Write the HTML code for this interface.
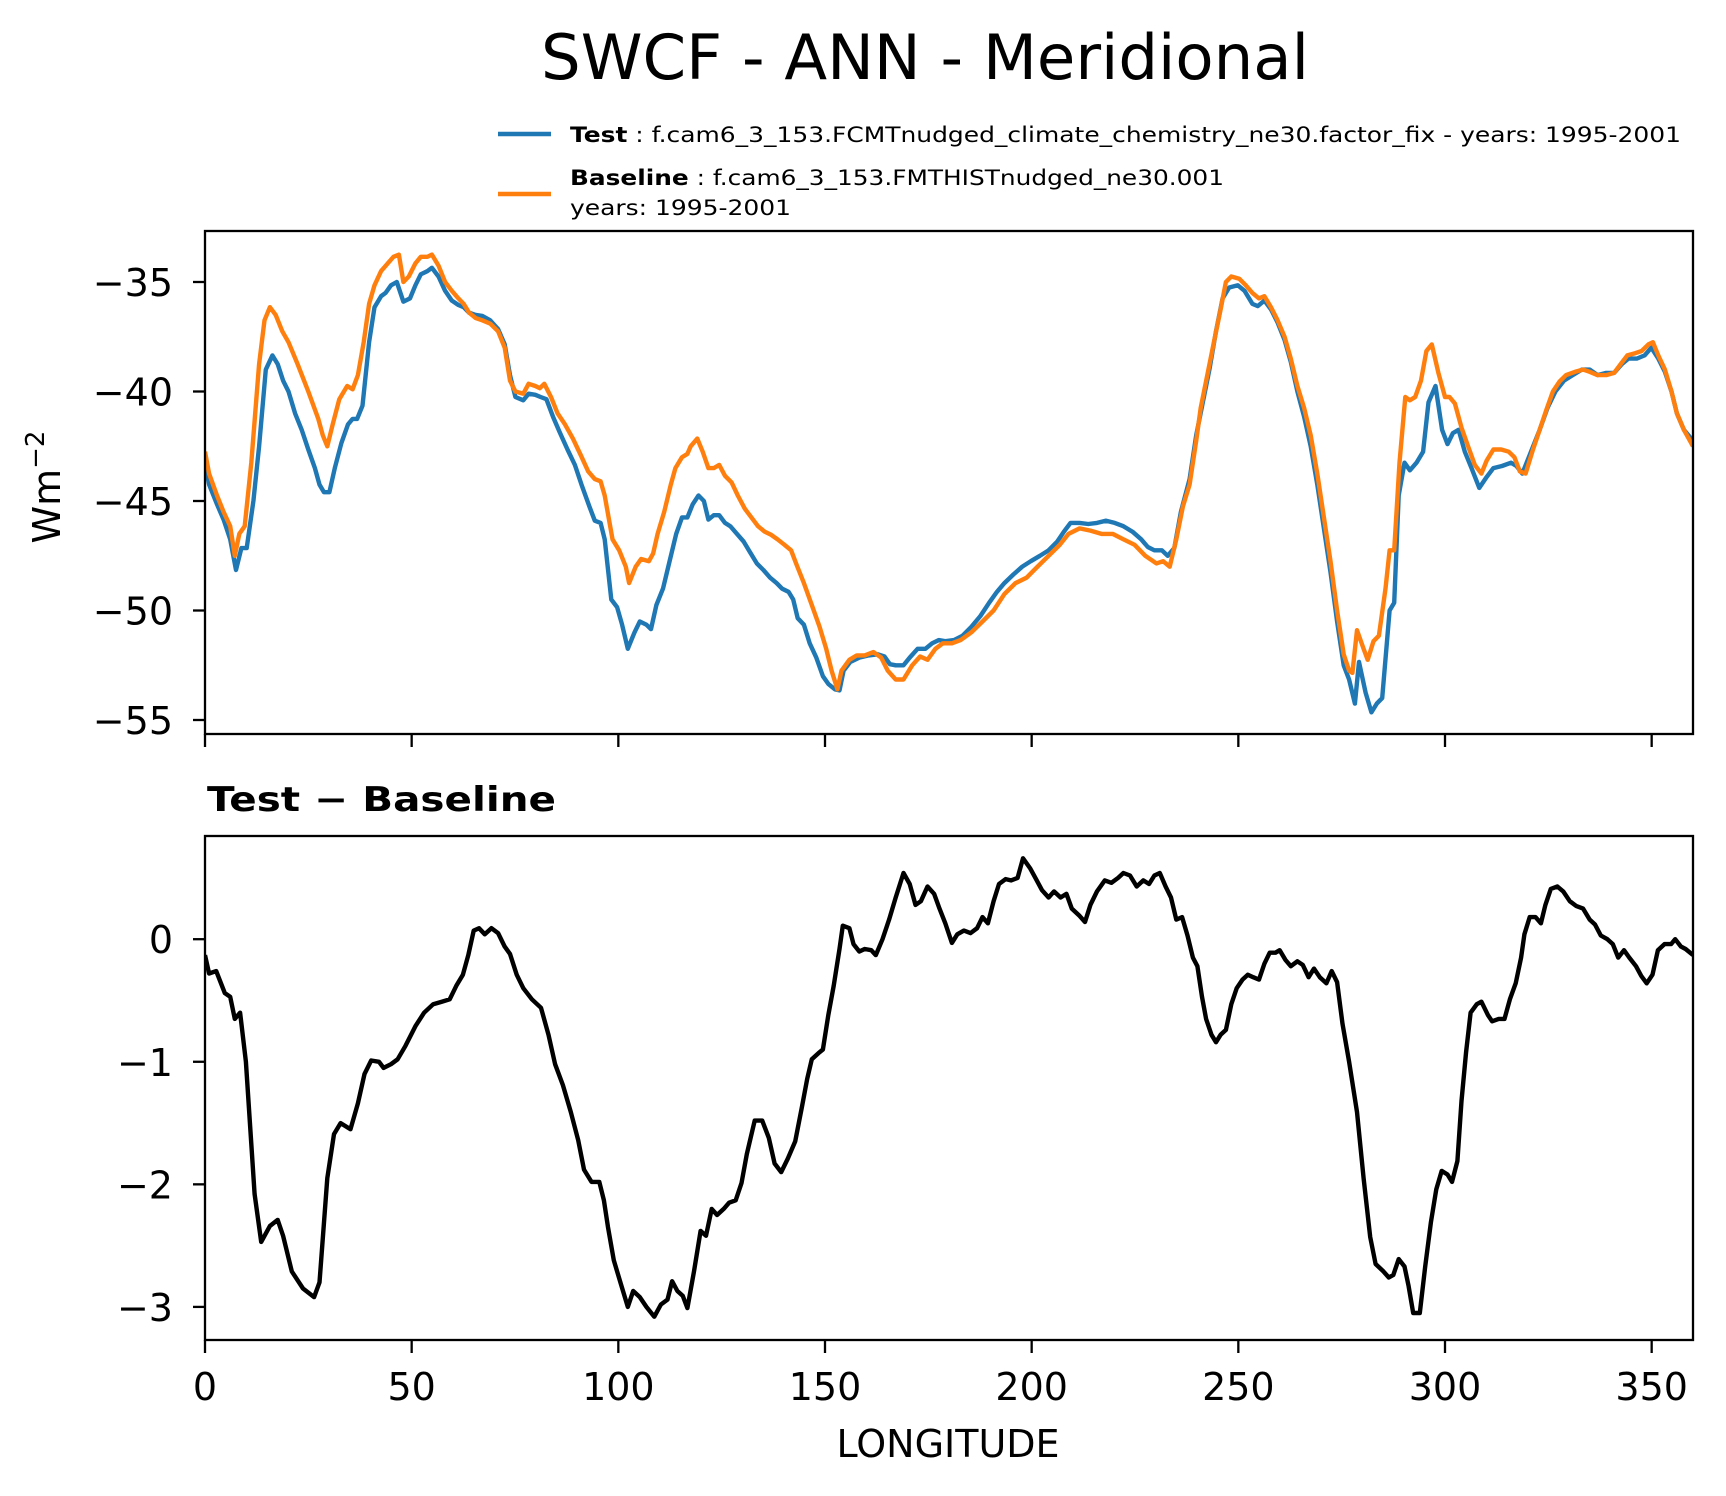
<!DOCTYPE html>
<html><head><meta charset="utf-8"><style>
html,body{margin:0;padding:0;background:#fff;}
svg{display:block;font-family:"DejaVu Sans","Liberation Sans",sans-serif;}
</style></head><body>
<svg id="chart" width="1726" height="1496" viewBox="0 0 1726 1496" xmlns="http://www.w3.org/2000/svg">
<rect width="1726" height="1496" fill="#fff"/>
<text x="925" y="79" font-size="62.5" text-anchor="middle">SWCF - ANN - Meridional</text>
<g>
<line x1="498" y1="134" x2="551" y2="134" stroke="#1f77b4" stroke-width="4.5"/>
<text x="570" y="142" font-size="21" textLength="1111" lengthAdjust="spacingAndGlyphs"><tspan font-weight="bold">Test</tspan> : f.cam6_3_153.FCMTnudged_climate_chemistry_ne30.factor_fix - years: 1995-2001</text>
<line x1="498" y1="194" x2="551" y2="194" stroke="#ff7f0e" stroke-width="4.5"/>
<text x="570" y="185" font-size="21" textLength="654" lengthAdjust="spacingAndGlyphs"><tspan font-weight="bold">Baseline</tspan> : f.cam6_3_153.FMTHISTnudged_ne30.001</text>
<text x="570" y="215" font-size="21" textLength="221" lengthAdjust="spacingAndGlyphs">years: 1995-2001</text>
</g>
<text transform="translate(60,487) rotate(-90)" font-size="38" text-anchor="middle">Wm<tspan font-size="26" dy="-16">−2</tspan></text>
<text x="207" y="811" font-size="34" font-weight="bold" textLength="349" lengthAdjust="spacingAndGlyphs">Test − Baseline</text>
<text x="948" y="1457" font-size="38" text-anchor="middle">LONGITUDE</text>
<g id="top"></g>
<g id="bot"></g>
</svg>
<script>
const testLon=[0,1,2.9,4.5,6.1,7.5,8.8,10.1,11.7,13.1,14.7,16.3,17.6,18.9,20.2,21.8,23.4,25,26.6,27.7,28.8,30.1,31.4,33,34.6,35.7,36.8,38.1,39.7,41,42.6,43.7,45,46.4,48,49.6,50.9,52.2,53.8,54.9,56.5,58.1,59.7,61.3,62.6,63.9,65.5,67.1,69,70.9,72.5,73.8,75.1,77,78.3,79.9,81.2,82.6,84.2,85.8,87.7,89.5,91.1,93,94.3,95.7,96.7,98.3,99.7,100.9,102.3,103.9,105.2,106.8,107.9,109.2,110.8,112.4,114,115.4,116.7,118,119.4,120.7,121.8,123.1,124.4,125.8,127.1,128.7,130.3,131.9,133.5,135.1,136.7,138.3,139.6,141.2,142.3,143.4,144.9,146.3,147.9,149.5,150.8,152.4,153.5,154.5,156.1,158.3,160.6,162.8,164.4,165.7,167.1,169,170.5,172.4,174.3,175.9,177.5,179.1,181.2,183.3,185.4,187.6,189.7,191.6,193.4,195.6,197.7,199.8,202,204.1,206.2,207.8,209.4,211.6,213.7,215.8,218,220.1,222.2,224.4,226.5,228.1,229.7,231.5,232.9,234.5,236.1,238.2,239.8,241.4,243,244.6,246.2,247.8,249.9,251.5,253.4,254.7,256.3,257.9,259.5,261.2,262.7,264.3,265.9,267.5,269.1,270.7,272.3,273.9,275.5,276.8,278.2,279.2,280.8,282.2,283.5,284.8,286.6,287.7,288.8,290.2,291.5,293.1,294.7,296,297.7,299.3,300.6,301.9,303.3,304.8,306.4,308.3,310.1,311.7,313.8,316,317.3,318.7,320.8,322.9,324.8,326.7,328.8,330.9,333.1,335,336.9,339,340.9,342.8,344.4,346.4,348.3,349.9,351.6,353.2,354.8,356.1,357.8,360];
const testVals=[-43.25,-44.25,-45.15,-45.85,-46.75,-48.15,-47.15,-47.15,-45,-42.5,-39,-38.35,-38.75,-39.5,-40,-41,-41.75,-42.65,-43.5,-44.25,-44.6,-44.6,-43.5,-42.35,-41.5,-41.25,-41.25,-40.65,-37.75,-36.15,-35.65,-35.5,-35.15,-35,-35.9,-35.75,-35.15,-34.65,-34.5,-34.35,-34.75,-35.4,-35.85,-36.05,-36.15,-36.4,-36.5,-36.55,-36.75,-37.15,-37.85,-39.25,-40.25,-40.4,-40.1,-40.15,-40.25,-40.35,-41.15,-41.85,-42.65,-43.35,-44.25,-45.25,-45.9,-46,-46.75,-49.5,-49.85,-50.65,-51.75,-51,-50.5,-50.65,-50.85,-49.75,-49,-47.75,-46.5,-45.75,-45.75,-45.15,-44.75,-45,-45.85,-45.65,-45.65,-46,-46.15,-46.5,-46.85,-47.35,-47.85,-48.15,-48.5,-48.75,-49,-49.15,-49.5,-50.35,-50.65,-51.5,-52.15,-53,-53.35,-53.6,-53.65,-52.75,-52.35,-52.15,-52.05,-52,-52.1,-52.45,-52.5,-52.5,-52.15,-51.75,-51.75,-51.5,-51.35,-51.4,-51.35,-51.15,-50.75,-50.25,-49.65,-49.15,-48.75,-48.35,-48,-47.75,-47.5,-47.25,-46.85,-46.4,-46,-46,-46.05,-46,-45.9,-46,-46.15,-46.4,-46.75,-47.1,-47.25,-47.25,-47.5,-47.15,-45.5,-44,-42,-40.5,-39,-37.25,-35.75,-35.25,-35.15,-35.4,-36,-36.1,-35.85,-36.25,-36.85,-37.65,-38.65,-40,-41.15,-42.5,-44.25,-46.25,-48.25,-50.5,-52.5,-53.15,-54.25,-52.35,-53.75,-54.65,-54.25,-54,-50,-49.65,-44.75,-43.25,-43.6,-43.25,-42.75,-40.5,-39.75,-41.75,-42.4,-41.9,-41.75,-42.75,-43.5,-44.4,-43.9,-43.5,-43.4,-43.25,-43.4,-43.75,-42.75,-41.75,-40.75,-40,-39.5,-39.25,-39,-39,-39.25,-39.15,-39.15,-38.75,-38.5,-38.5,-38.35,-38,-38.5,-39.1,-40,-41,-41.75,-42.25];
const baseLon=[0,1,2.9,4.5,6.1,7.2,8.3,9.6,11.2,13.1,14.4,15.7,17.1,18.7,20.2,22.4,25,27.4,28.5,29.6,30.9,32.5,34.4,35.7,37,38.4,39.7,41,42.6,44.2,45.6,46.9,48,49.3,50.9,52.2,53.8,54.9,56.5,58.1,59.7,61.3,62.6,63.9,65.5,67.1,69,70.9,72.5,73.8,75.1,77,78.3,79.9,81,82.1,83.7,85.3,87.1,89,90.9,92.7,94.3,95.7,96.7,98.6,100.2,101.8,102.6,104.2,105.5,107.4,108.4,109.5,111.1,112.7,113.8,115.4,116.7,117.5,119.1,120.4,121.8,123.1,124.4,125.8,127.4,128.9,130.6,132.2,133.8,135.4,137,138.5,140.2,141.8,143.1,144.9,146.8,148.7,150.3,151.6,153,154,155.9,157.7,159.6,161.7,163.6,165.2,167.1,169,171.1,173,174.8,176.7,178.5,180.7,182.8,185.4,188.1,190.8,193.4,196.1,198.8,201.4,204.1,206.8,208.9,211.6,214.2,216.9,219.6,222.2,224.9,227.5,230.2,231.8,233.4,235,236.6,238.2,239.8,240.9,242.5,244.1,245.7,247,248.3,250.2,251.8,253.4,255,256.3,257.9,259.5,261.2,262.7,264.3,265.9,267.5,269.1,270.7,272.3,273.9,275.5,276.8,277.6,278.7,280.3,281.3,282.7,284,285.6,286.6,287.7,289,290.4,291.5,292.8,294.2,295.5,296.8,298.4,300,301.1,302.4,304,305.6,307.2,308.8,310.1,311.7,313.6,315.4,316.8,318.1,319.5,321.3,322.9,324.5,326.1,327.7,329.3,331.5,333.4,335,336.9,339,340.9,342.5,344.1,346,347.6,349.2,350.3,351.6,353.2,354.8,356.1,357.8,360];
const baseVals=[-42.75,-43.75,-44.75,-45.5,-46.15,-47.5,-46.5,-46.15,-43.25,-38.75,-36.75,-36.15,-36.5,-37.25,-37.75,-38.75,-40,-41.25,-42,-42.5,-41.5,-40.35,-39.75,-39.9,-39.25,-37.75,-36,-35.15,-34.5,-34.15,-33.85,-33.75,-35,-34.75,-34.15,-33.85,-33.85,-33.75,-34.25,-35,-35.4,-35.75,-36,-36.4,-36.65,-36.75,-36.9,-37.25,-38,-39.5,-40,-40.1,-39.65,-39.75,-39.85,-39.65,-40.25,-41,-41.5,-42.15,-42.9,-43.65,-44,-44.1,-44.75,-46.75,-47.25,-48,-48.75,-48,-47.65,-47.75,-47.4,-46.5,-45.5,-44.25,-43.5,-43,-42.85,-42.5,-42.15,-42.75,-43.5,-43.5,-43.35,-43.85,-44.15,-44.75,-45.35,-45.75,-46.15,-46.4,-46.55,-46.75,-47,-47.25,-47.9,-48.75,-49.75,-50.75,-51.75,-52.75,-53.6,-52.75,-52.25,-52.05,-52.05,-51.9,-52.15,-52.75,-53.15,-53.15,-52.5,-52.1,-52.25,-51.75,-51.5,-51.5,-51.35,-51,-50.5,-50,-49.25,-48.75,-48.5,-48,-47.5,-47,-46.5,-46.25,-46.35,-46.5,-46.5,-46.75,-47,-47.5,-47.85,-47.75,-48,-46.75,-45.25,-44.25,-42.25,-40.75,-39.25,-37.75,-36.25,-35,-34.75,-34.85,-35.15,-35.5,-35.75,-35.65,-36.15,-36.75,-37.5,-38.5,-39.75,-40.75,-42,-43.75,-45.75,-47.75,-50,-52,-52.75,-52.85,-50.9,-51.75,-52.25,-51.4,-51.15,-49,-47.25,-47.25,-43.25,-40.25,-40.4,-40.25,-39.5,-38.15,-37.85,-39.15,-40.25,-40.25,-40.55,-41.65,-42.5,-43.35,-43.75,-43.15,-42.65,-42.65,-42.75,-43,-43.65,-43.75,-42.65,-41.75,-40.85,-40,-39.55,-39.25,-39.1,-39,-39.1,-39.25,-39.25,-39.15,-38.75,-38.35,-38.25,-38.15,-37.85,-37.75,-38.35,-39,-40,-41,-41.75,-42.5];
const diffLon=[0,1,2.7,4.8,6.1,7.2,8.5,9.9,12,13.6,15.7,17.6,18.9,21,23.7,26.4,27.7,29.6,31.2,32.8,35.2,37,38.6,40.2,42.1,43.2,45,46.6,48.5,50.9,53,55.2,57.3,59.2,60.8,62.4,63.7,65,66.3,67.7,69.3,70.9,72.5,73.8,75.4,77,79.1,81.3,83.1,84.7,86.6,88.5,90.3,91.7,93.5,95.4,96.5,97.5,98.9,100.5,102.3,103.6,105.2,106.8,108.7,110.3,111.9,113,114.3,115.6,116.7,118.3,119.9,121.2,122.6,123.9,125.5,126.8,128.4,129.8,131.1,133,134.8,136.4,137.8,139.4,141,142.8,144.4,145.7,146.8,148.4,149.5,150.8,152.1,153.5,154.3,155.9,156.9,158.3,159.6,161.2,162.3,163.9,165.5,167.1,169,170.5,171.9,173.2,174.8,176.4,177.7,179.1,180.7,182,183.6,185.2,186.8,188.1,189.4,190.8,192.1,193.7,195,196.6,197.9,199.6,200.9,202.5,204.1,205.4,207,208.4,209.7,211.6,212.9,214.2,215.8,217.7,219.3,220.9,222.2,223.8,225.4,227,228.4,229.7,231,232.4,233.7,235,236.4,237.7,239,240.1,241.2,242.2,243.5,244.6,245.7,247,248.3,249.6,251,252.3,253.6,255,256.3,257.6,259,260,261.4,262.7,264.3,265.6,267,268.3,269.7,271.3,272.6,273.9,275.2,276.8,278.7,280.3,281.9,283.2,285.1,286.4,287.5,288.8,290.2,291.2,292.3,293.9,295.2,296.6,297.9,299.2,300.6,301.7,303,304,305.1,306.2,307.7,308.8,310.4,311.4,313,314.4,315.7,317.1,318.4,319.2,320.5,321.9,323.2,324.3,325.6,327.2,328.6,330.2,331.8,333.4,335,336.3,337.7,339.3,340.6,341.9,343.3,344.6,346.2,347.5,348.8,350.2,351.5,353.1,354.7,355.7,357.1,358.2,360];
const diffVals=[-0.13,-0.28,-0.26,-0.44,-0.47,-0.65,-0.6,-1.0,-2.08,-2.47,-2.34,-2.29,-2.42,-2.71,-2.85,-2.92,-2.8,-1.95,-1.59,-1.5,-1.55,-1.34,-1.1,-0.99,-1.0,-1.05,-1.02,-0.98,-0.87,-0.71,-0.6,-0.53,-0.51,-0.49,-0.38,-0.29,-0.13,0.07,0.09,0.04,0.09,0.05,-0.06,-0.12,-0.29,-0.4,-0.49,-0.56,-0.78,-1.02,-1.19,-1.41,-1.64,-1.88,-1.98,-1.98,-2.13,-2.35,-2.62,-2.8,-3.0,-2.87,-2.92,-3.0,-3.08,-2.98,-2.94,-2.79,-2.87,-2.91,-3.01,-2.71,-2.38,-2.42,-2.2,-2.25,-2.2,-2.15,-2.13,-1.99,-1.75,-1.48,-1.48,-1.62,-1.83,-1.9,-1.79,-1.65,-1.37,-1.14,-0.98,-0.93,-0.9,-0.62,-0.38,-0.08,0.11,0.09,-0.04,-0.1,-0.08,-0.09,-0.13,0,0.16,0.34,0.54,0.45,0.28,0.31,0.43,0.37,0.25,0.13,-0.03,0.04,0.07,0.05,0.09,0.18,0.13,0.31,0.45,0.49,0.48,0.5,0.66,0.58,0.5,0.4,0.34,0.39,0.34,0.37,0.25,0.19,0.14,0.28,0.39,0.48,0.46,0.5,0.54,0.52,0.43,0.48,0.45,0.52,0.54,0.43,0.34,0.16,0.18,0.03,-0.15,-0.22,-0.47,-0.65,-0.78,-0.84,-0.78,-0.74,-0.53,-0.4,-0.33,-0.29,-0.31,-0.33,-0.2,-0.11,-0.11,-0.09,-0.17,-0.22,-0.18,-0.21,-0.31,-0.24,-0.31,-0.36,-0.26,-0.35,-0.69,-1.0,-1.41,-1.95,-2.43,-2.65,-2.71,-2.76,-2.74,-2.61,-2.67,-2.83,-3.05,-3.05,-2.67,-2.31,-2.04,-1.89,-1.92,-1.98,-1.81,-1.32,-0.92,-0.6,-0.53,-0.51,-0.62,-0.67,-0.65,-0.65,-0.49,-0.36,-0.15,0.04,0.18,0.18,0.13,0.28,0.41,0.43,0.39,0.31,0.27,0.25,0.16,0.12,0.03,0,-0.04,-0.15,-0.09,-0.15,-0.22,-0.3,-0.36,-0.29,-0.09,-0.04,-0.04,0,-0.06,-0.08,-0.13];
const xTicks=[0,50,100,150,200,250,300,350];
const topYTicks=[-35,-40,-45,-50,-55];
const botYTicks=[0,-1,-2,-3];

const NS='http://www.w3.org/2000/svg';
const L=205,R=1693;
const TOP1=231,BOT1=734,TOP2=836,BOT2=1340;
const xs=v=>L+(v/360)*(R-L);
const topY=v=>282+(-35-v)*21.9;
const botY=v=>939.2-v*122.57;
function mk(p,tag,attrs){const e=document.createElementNS(NS,tag);for(const k in attrs)e.setAttribute(k,attrs[k]);p.appendChild(e);return e;}
function pathD(lons,vals,ys){return lons.map((l,i)=>(i?'L':'M')+xs(l).toFixed(1)+','+ys(vals[i]).toFixed(1)).join(' ');}
function axes(g,top,bot,yt,ys,labelsX,prefix){
  const cp=mk(g,'clipPath',{id:prefix+'clip'});
  mk(cp,'rect',{x:L,y:top,width:R-L,height:bot-top});
  yt.forEach(v=>{
    const y=ys(v);
    const t=mk(g,'line',{x1:L-12,x2:L,y1:y,y2:y,stroke:'#000','stroke-width':2.3});
    
    
    const tx=mk(g,'text',{x:173,y:y+14,'font-size':38,'text-anchor':'end'});
    tx.textContent=(v<0?'−':'')+Math.abs(v);
    
    
  });
  xTicks.forEach(v=>{
    const x=xs(v);
    const t=mk(g,'line',{x1:x,x2:x,y1:bot,y2:bot+13,stroke:'#000','stroke-width':2.3});
    
    
    if(labelsX){
      const tx=mk(g,'text',{x:x,y:1400,'font-size':38,'text-anchor':'middle'});
      tx.textContent=String(v);
      
      
    }
  });
}
const gt=document.getElementById('top');


axes(gt,TOP1,BOT1,topYTicks,topY,false,'top-');
const pt=mk(gt,'path',{d:pathD(testLon,testVals,topY),fill:'none',stroke:'#1f77b4','stroke-width':4.4,'stroke-linejoin':'round','clip-path':'url(#top-clip)'});


const pb=mk(gt,'path',{d:pathD(baseLon,baseVals,topY),fill:'none',stroke:'#ff7f0e','stroke-width':4.4,'stroke-linejoin':'round','clip-path':'url(#top-clip)'});


const fr1=mk(gt,'rect',{x:L,y:TOP1,width:R-L,height:BOT1-TOP1,fill:'none',stroke:'#000','stroke-width':2.3});



const gb=document.getElementById('bot');


axes(gb,TOP2,BOT2,botYTicks,botY,true,'bot-');
const pd=mk(gb,'path',{d:pathD(diffLon,diffVals,botY),fill:'none',stroke:'#000','stroke-width':4.4,'stroke-linejoin':'round','clip-path':'url(#bot-clip)'});


const fr2=mk(gb,'rect',{x:L,y:TOP2,width:R-L,height:BOT2-TOP2,fill:'none',stroke:'#000','stroke-width':2.3});


</script>
</body></html>
